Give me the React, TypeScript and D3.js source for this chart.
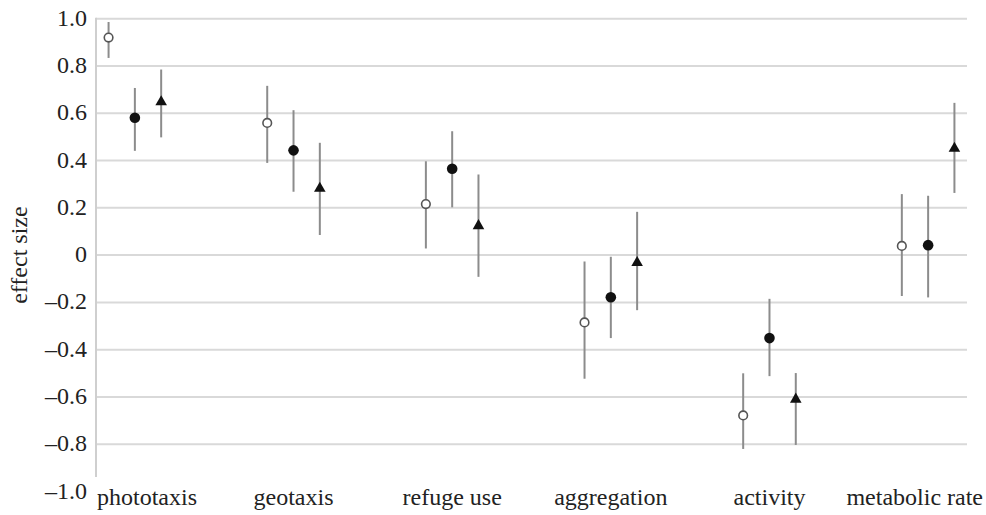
import React, { useEffect, useRef } from "react";
import * as d3 from "d3";

const categories = ["phototaxis", "geotaxis", "refuge use", "aggregation", "activity", "metabolic rate"];
const series = ["open", "filled", "triangle"];

// effect size per category, one array per series
const openMean = [0.92, 0.559, 0.216, -0.285, -0.678, 0.039];
const openLow = [0.834, 0.39, 0.028, -0.523, -0.82, -0.173];
const openHigh = [0.986, 0.716, 0.397, -0.027, -0.5, 0.258];

const filledMean = [0.581, 0.443, 0.365, -0.178, -0.351, 0.042];
const filledLow = [0.441, 0.268, 0.202, -0.351, -0.512, -0.179];
const filledHigh = [0.707, 0.613, 0.524, -0.007, -0.185, 0.251];

const triMean = [0.648, 0.282, 0.124, -0.032, -0.61, 0.451];
const triLow = [0.498, 0.085, -0.092, -0.233, -0.803, 0.263];
const triHigh = [0.785, 0.475, 0.341, 0.183, -0.499, 0.644];

const yTicks = [1.0, 0.8, 0.6, 0.4, 0.2, 0, -0.2, -0.4, -0.6, -0.8, -1.0];
const gridTicks = [1.0, 0.8, 0.6, 0.4, 0.2, 0, -0.2, -0.4, -0.6, -0.8];

const width = 986;
const height = 515;

const fmt = (v: number) => (v === 0 ? "0" : (v < 0 ? "\u2013" : "") + Math.abs(v).toFixed(1));

const App = () => {
  const ref = useRef<SVGSVGElement>(null);

  useEffect(() => {
    const svg = d3.select(ref.current);
    svg.selectAll("*").remove();

    const left = 96;
    const right = 967;
    const font = "'Liberation Serif', 'Times New Roman', serif";

    const y = d3.scaleLinear().domain([-1, 1]).range([491.5, 18.7]);
    const x = d3.scalePoint().domain(categories).range([left, right]).padding(0.245);
    const off = d3.scalePoint().domain(series).range([-26.3, 26.3]);

    // gridlines
    svg
      .append("g")
      .selectAll("line")
      .data(gridTicks)
      .enter()
      .append("line")
      .attr("x1", left)
      .attr("x2", right)
      .attr("y1", (d) => y(d))
      .attr("y2", (d) => y(d))
      .attr("stroke", "#d9d9d9")
      .attr("stroke-width", 2);

    // y axis line
    svg
      .append("line")
      .attr("x1", left)
      .attr("x2", left)
      .attr("y1", y(1) - 1)
      .attr("y2", 477)
      .attr("stroke", "#cfcfcf")
      .attr("stroke-width", 2);

    // tick labels
    svg
      .append("g")
      .selectAll("text")
      .data(yTicks)
      .enter()
      .append("text")
      .attr("x", 87)
      .attr("y", (d) => y(d) + 7)
      .attr("text-anchor", "end")
      .attr("font-family", font)
      .attr("font-size", 24)
      .attr("fill", "#222")
      .text(fmt);

    svg
      .append("text")
      .attr("transform", `translate(27,${y(0)}) rotate(-90)`)
      .attr("text-anchor", "middle")
      .attr("font-family", font)
      .attr("font-size", 24)
      .attr("fill", "#222")
      .text("effect size");

    // category labels
    svg
      .append("g")
      .selectAll("text")
      .data(categories)
      .enter()
      .append("text")
      .attr("x", (d, i) => (i === 0 ? left + 1 : i === categories.length - 1 ? 983 : x(d)!))
      .attr("y", 505)
      .attr("text-anchor", (d, i) => (i === 0 ? "start" : i === categories.length - 1 ? "end" : "middle"))
      .attr("font-family", font)
      .attr("font-size", 24)
      .attr("fill", "#222")
      .text((d) => d);

    const sets = [
      { key: "open", mean: openMean, low: openLow, high: openHigh },
      { key: "filled", mean: filledMean, low: filledLow, high: filledHigh },
      { key: "triangle", mean: triMean, low: triLow, high: triHigh },
    ];

    sets.forEach((s) => {
      const pts = categories.map((c, i) => ({
        cx: x(c)! + off(s.key)!,
        m: s.mean[i],
        lo: s.low[i],
        hi: s.high[i],
      }));
      const g = svg.append("g");
      g.selectAll("line")
        .data(pts)
        .enter()
        .append("line")
        .attr("x1", (d) => d.cx)
        .attr("x2", (d) => d.cx)
        .attr("y1", (d) => y(d.lo))
        .attr("y2", (d) => y(d.hi))
        .attr("stroke", "#8c8c8c")
        .attr("stroke-width", 2);

      if (s.key === "open") {
        g.selectAll("circle")
          .data(pts)
          .enter()
          .append("circle")
          .attr("cx", (d) => d.cx)
          .attr("cy", (d) => y(d.m))
          .attr("r", 4.3)
          .attr("fill", "#fff")
          .attr("stroke", "#555")
          .attr("stroke-width", 1.6);
      } else if (s.key === "filled") {
        g.selectAll("circle")
          .data(pts)
          .enter()
          .append("circle")
          .attr("cx", (d) => d.cx)
          .attr("cy", (d) => y(d.m))
          .attr("r", 5.3)
          .attr("fill", "#111");
      } else {
        const tri = d3.symbol().type(d3.symbolTriangle).size(58);
        g.selectAll("path")
          .data(pts)
          .enter()
          .append("path")
          .attr("d", tri)
          .attr("transform", (d) => `translate(${d.cx},${y(d.m)})`)
          .attr("fill", "#111");
      }
    });
  }, []);

  return (
    <svg
      ref={ref}
      width={width}
      height={height}
      style={{ position: "absolute", left: 0, top: 0, background: "#fff" }}
    />
  );
};

export default App;
